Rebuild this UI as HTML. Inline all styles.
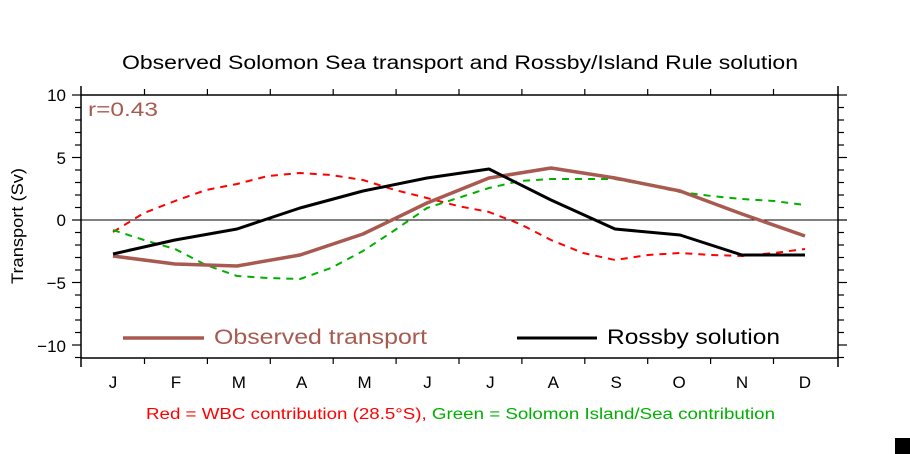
<!DOCTYPE html>
<html><head><meta charset="utf-8"><style>
html,body{margin:0;padding:0;background:#fff;}
svg{display:block;font-family:"Liberation Sans",sans-serif;}
</style></head><body>
<svg width="910" height="454" viewBox="0 0 910 454" xmlns="http://www.w3.org/2000/svg">
<rect width="910" height="454" fill="#fff"/>
<text x="122" y="69" font-size="19" textLength="676" lengthAdjust="spacingAndGlyphs" fill="#000">Observed Solomon Sea transport and Rossby/Island Rule solution</text>
<g stroke="#000" stroke-width="1.5" fill="none">
<line x1="81" y1="86" x2="81" y2="367"/>
<line x1="838" y1="86" x2="838" y2="367"/>
<line x1="81" y1="95" x2="838" y2="95"/>
<line x1="81" y1="358" x2="838" y2="358"/>
<line x1="81" y1="220" x2="838" y2="220" stroke-width="1"/>
</g>
<g stroke="#000" stroke-width="1.2" id="ticks"></g>
<g font-size="17" fill="#000" text-anchor="end">
<text x="66" y="101">10</text><text x="66" y="164">5</text><text x="66" y="226">0</text><text x="66" y="289">−5</text><text x="66" y="352">−10</text>
</g>
<text transform="translate(23,226) rotate(-90)" font-size="17" text-anchor="middle" textLength="116" lengthAdjust="spacingAndGlyphs">Transport (Sv)</text>
<text x="88" y="116" font-size="19" fill="#a85a50" textLength="70" lengthAdjust="spacingAndGlyphs">r=0.43</text>
<g font-size="17" text-anchor="middle" id="months"></g>
<g fill="none" stroke-linejoin="round">
<polyline stroke="#ff0000" stroke-width="2" stroke-dasharray="7,6" points="113,232 144,213 175,201 206,190 237,184 268,176 300,173 331,175 363,180 395,190 427,198 458,206 489,212 520,224 551,240 583,253 615,260 648,255 680,253 711,255 742,256 774,253 805,249"/>
<polyline stroke="#00b000" stroke-width="2" stroke-dasharray="7,6" points="113,230 144,240 175,249 206,265 237,276 268,278 300,279 331,268 363,251 395,230 427,208 458,198 489,188 520,181 551,179 583,179 615,179 648,185 680,192 711,196 742,199 774,201 805,205"/>
<polyline stroke="#a85a50" stroke-width="3.5" points="113,256 175,264 237,266 300,255 363,234 427,203 489,178 551,168 615,178 680,191 742,214 805,236"/>
<polyline stroke="#000" stroke-width="3" points="113,254 175,240 237,229 300,208 363,191 427,178 489,169 551,200 615,229 680,235 742,255 805,255"/>
</g>
<line x1="123" y1="338" x2="204" y2="338" stroke="#a85a50" stroke-width="3.5"/>
<text x="214" y="344" font-size="21" fill="#a85a50" textLength="213" lengthAdjust="spacingAndGlyphs">Observed transport</text>
<line x1="517" y1="338" x2="597" y2="338" stroke="#000" stroke-width="3"/>
<text x="607" y="344" font-size="21" fill="#000" textLength="173" lengthAdjust="spacingAndGlyphs">Rossby solution</text>
<text x="146" y="419" font-size="15.5" fill="#ff0000" textLength="629" lengthAdjust="spacingAndGlyphs">Red = WBC contribution (28.5°S), <tspan fill="#00b000">Green = Solomon Island/Sea contribution</tspan></text>
<rect x="895" y="438" width="15" height="16" fill="#000"/>
<script>
var ns="http://www.w3.org/2000/svg",t=document.getElementById('ticks'),m=document.getElementById('months');
function L(a,b,c,d){var l=document.createElementNS(ns,'line');l.setAttribute('x1',a);l.setAttribute('y1',b);l.setAttribute('x2',c);l.setAttribute('y2',d);t.appendChild(l);}
for(var v=-11;v<=10;v++){var y=220-12.5*v,maj=(v%5==0);L(81,y,maj?72:75,y);L(838,y,maj?847:844,y);}
for(var i=0;i<11;i++){var x=144.5+62.9*i;L(x,95,x,89);L(x,358,x,364);}
var ms="JFMAMJJASOND";for(var i=0;i<12;i++){var tx=document.createElementNS(ns,'text');tx.setAttribute('x',113+62.9*i);tx.setAttribute('y',388);tx.textContent=ms[i];m.appendChild(tx);}
</script>
</svg>
</body></html>
